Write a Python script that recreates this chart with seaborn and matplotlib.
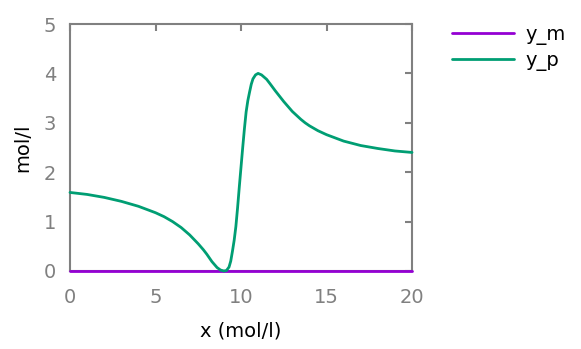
import matplotlib
matplotlib.use("Agg")

import matplotlib.pyplot as plt
import seaborn as sns
import numpy as np
import pandas as pd

# values
x_vals = [0, 1, 2, 3, 4, 5, 5.5, 6, 6.5, 7, 7.5, 7.8, 8.0, 8.3, 8.6, 8.8, 9.0, 9.15,
          9.3, 9.4, 9.5, 9.6, 9.7, 9.8, 9.9, 10.0, 10.1, 10.2, 10.3, 10.4, 10.5,
          10.6, 10.7, 10.85, 11.0, 11.2, 11.5, 11.7, 12.0, 12.25, 12.5, 12.75, 13.0,
          13.25, 13.5, 13.75, 14, 14.5, 15, 16, 17, 18, 19, 20]
y_p = [1.59, 1.55, 1.49, 1.41, 1.31, 1.18, 1.10, 1.0, 0.88, 0.73, 0.55, 0.43, 0.34,
       0.19, 0.07, 0.02, 0.0, 0.01, 0.08, 0.20, 0.40, 0.62, 0.90, 1.28, 1.70, 2.10,
       2.50, 2.88, 3.22, 3.45, 3.62, 3.78, 3.89, 3.97, 4.0, 3.97, 3.88, 3.79, 3.65,
       3.54, 3.43, 3.33, 3.23, 3.15, 3.07, 3.0, 2.94, 2.84, 2.76, 2.63, 2.54, 2.48,
       2.43, 2.40]
y_m = [0.0] * len(x_vals)

series_names = ["y_m", "y_p"]
series_colors = ["#9400d3", "#009e73"]
x_ticks = [0, 5, 10, 15, 20]
y_ticks = [0, 1, 2, 3, 4, 5]

df = pd.concat([
    pd.DataFrame({"x": x_vals, "y": y_m, "series": "y_m"}),
    pd.DataFrame({"x": x_vals, "y": y_p, "series": "y_p"}),
])

sns.set_style("white")
plt.rcParams["font.family"] = ["DejaVu Sans"]
plt.rcParams["text.color"] = "black"
plt.rcParams["axes.labelcolor"] = "black"

fig = plt.figure(figsize=(5.81, 3.49), dpi=100)
ax = fig.add_axes([70 / 581, 78 / 349, 342 / 581, 247 / 349])

sns.lineplot(data=df, x="x", y="y", hue="series", hue_order=series_names,
             palette=series_colors, linewidth=2, ax=ax, estimator=None,
             sort=False, zorder=5, clip_on=False)

ax.set_xlim(0, 20)
ax.set_ylim(0, 5)
ax.set_xticks(x_ticks)
ax.set_yticks(y_ticks)

gray = "#808080"
for s in ax.spines.values():
    s.set_color(gray)
    s.set_linewidth(1.5)
ax.tick_params(direction="in", length=5, width=1.5, color=gray, labelcolor=gray,
               labelsize=14, top=True, right=True)
ax.tick_params(axis="x", pad=12)
ax.tick_params(axis="y", pad=10)
ax.set_xlabel("x (mol/l)", fontsize=14, labelpad=11)
ax.set_ylabel("mol/l", fontsize=14, labelpad=8)

ax.legend(loc="upper left", bbox_to_anchor=((452 - 70) / 342, (271 - 25) / 247),
          frameon=False, fontsize=14, handlelength=3.2, handletextpad=0.6,
          labelspacing=0.3, borderaxespad=0, borderpad=0)

fig.savefig("out.png", dpi=100)
